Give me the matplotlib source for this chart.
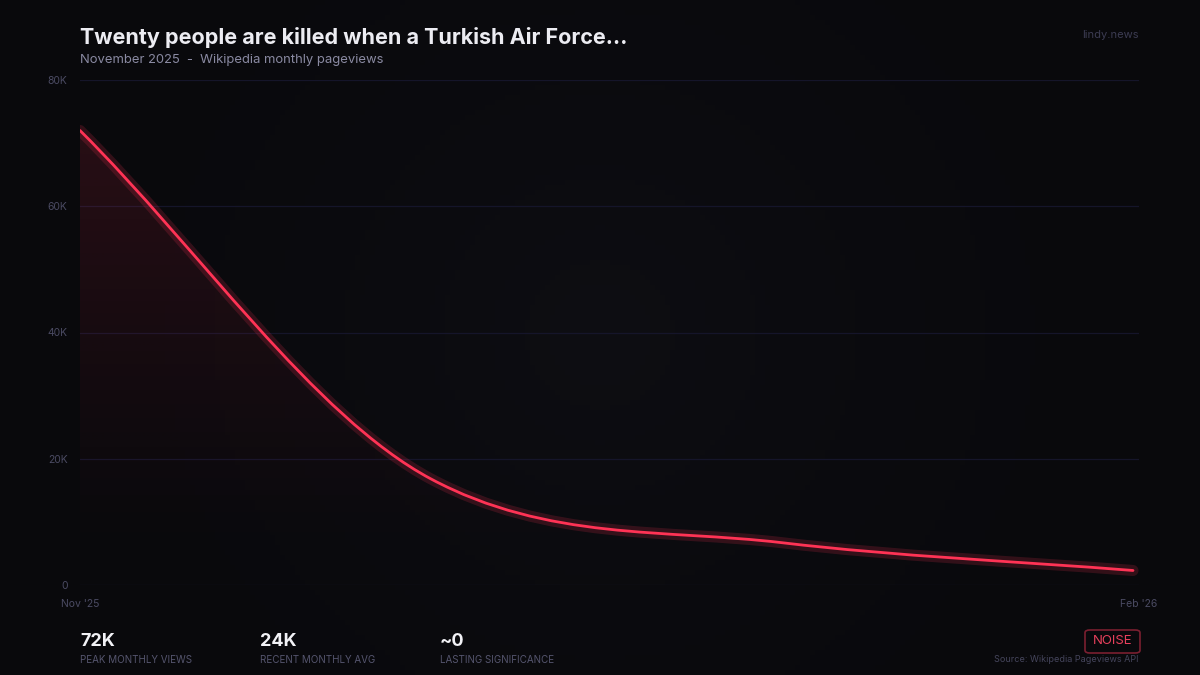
import matplotlib
matplotlib.use("Agg")
import matplotlib.pyplot as plt
import numpy as np
from matplotlib.path import Path
from matplotlib.patches import PathPatch, FancyBboxPatch

plt.rcParams["font.family"] = ["Inter", "DejaVu Sans"]

# --- data ---
months = ["Nov '25", "Dec '25", "Jan '26", "Feb '26"]
views = [72000, 16800, 6700, 2300]
y_ticks = [0, 20000, 40000, 60000, 80000]
y_tick_labels = ["0", "20K", "40K", "60K", "80K"]
stat_values = ["72K", "24K", "~0"]
stat_labels = ["PEAK MONTHLY VIEWS", "RECENT MONTHLY AVG", "LASTING SIGNIFICANCE"]

BG = "#0b0b0f"
GRID = "#15152a"
MUTED = "#4b4b63"
LINE = "#ff3355"

W, H = 1200, 675


def monotone_controls(x, y):
    """Fritsch-Carlson monotone cubic -> bezier control points (Chart.js style)."""
    x = np.asarray(x, float)
    y = np.asarray(y, float)
    k = len(x)
    d = np.diff(y) / np.diff(x)
    m = np.zeros(k)
    m[0], m[-1] = d[0], d[-1]
    for i in range(1, k - 1):
        m[i] = 0 if np.sign(d[i - 1]) != np.sign(d[i]) else (d[i - 1] + d[i]) / 2
    for i in range(k - 1):
        if abs(d[i]) < 1e-12:
            m[i] = m[i + 1] = 0
            continue
        a, b = m[i] / d[i], m[i + 1] / d[i]
        sq = a * a + b * b
        if sq <= 9:
            continue
        tau = 3 / np.sqrt(sq)
        m[i] = a * tau * d[i]
        m[i + 1] = b * tau * d[i]
    verts = [(x[0], y[0])]
    codes = [Path.MOVETO]
    for i in range(k - 1):
        dx = (x[i + 1] - x[i]) / 3
        verts += [(x[i] + dx, y[i] + dx * m[i]),
                  (x[i + 1] - dx, y[i + 1] - dx * m[i + 1]),
                  (x[i + 1], y[i + 1])]
        codes += [Path.CURVE4] * 3
    return np.array(verts), codes


fig = plt.figure(figsize=(12, 6.75), dpi=100, facecolor=BG)

# faint radial glow in the background
bg = fig.add_axes([0, 0, 1, 1], zorder=-10)
gx, gy = np.meshgrid(np.linspace(0, W, 240), np.linspace(0, H, 135))
r = np.hypot(gx - 600, gy - 340) / 700
shade = np.clip(1 - r, 0, 1) ** 2
base = np.array([9, 9, 12]) / 255
top = np.array([14, 14, 19]) / 255
img = base + (top - base) * shade[..., None]
bg.imshow(img, extent=(0, W, 0, H), aspect="auto", origin="lower")
bg.axis("off")

ax = fig.add_axes([80 / W, (H - 585) / H, (1139 - 80) / W, (585 - 80) / H])
ax.set_facecolor("none")
n = len(views)
xs = np.arange(n, dtype=float)
ax.set_xlim(0, (n - 1) * 1059 / 1053)
ax.set_ylim(0, 80000)
for s in ax.spines.values():
    s.set_visible(False)
ax.set_yticks(y_ticks)
ax.set_yticklabels(y_tick_labels)
ax.tick_params(axis="y", length=0, pad=9, labelsize=7.5, labelcolor=MUTED)
ax.set_xticks([])
ax.grid(axis="y", color=GRID, lw=0.9)
ax.set_axisbelow(True)

verts, codes = monotone_controls(xs, views)
line_path = Path(verts, codes)

# gradient fill under the curve
fill_verts = np.vstack([verts, [[xs[-1], 0], [xs[0], 0], verts[0]]])
fill_codes = codes + [Path.LINETO, Path.LINETO, Path.CLOSEPOLY]
fill_patch = PathPatch(Path(fill_verts, fill_codes), facecolor="none", edgecolor="none")
ax.add_patch(fill_patch)
grad = np.zeros((200, 2, 4))
grad[..., :3] = np.array([255, 51, 85]) / 255
grad[..., 3] = np.linspace(0, 0.13, 200)[:, None] ** 1.3 / 0.13 ** 0.3
gim = ax.imshow(grad, extent=(xs[0], xs[-1], 0, max(views)), aspect="auto",
                origin="lower", zorder=1)
gim.set_clip_path(fill_patch)

# glow + main line
ax.add_patch(PathPatch(line_path, facecolor="none", edgecolor=LINE, alpha=0.17,
                       lw=8, capstyle="round", joinstyle="round", zorder=3))
ax.add_patch(PathPatch(line_path, facecolor="none", edgecolor=LINE, lw=2,
                       capstyle="round", joinstyle="round", zorder=4))

# x labels at the edges
fig.text(80 / W, 1 - 604 / H, months[0], ha="center", va="center", color=MUTED, fontsize=7.5)
fig.text(1139 / W, 1 - 604 / H, months[-1], ha="center", va="center", color=MUTED, fontsize=7.5)

# title block
fig.text(80 / W, 1 - 38 / H, "Twenty people are killed when a Turkish Air Force…",
         ha="left", va="center", color="#ececf2", fontsize=15.5, fontweight="bold")
fig.text(80 / W, 1 - 60 / H, "November 2025  -  Wikipedia monthly pageviews",
         ha="left", va="center", color="#8a8aa2", fontsize=9.4)
fig.text(1139 / W, 1 - 35 / H, "lindy.news", ha="right", va="center",
         color="#3c3c52", fontsize=8)

# stats row
for i, (v, lab) in enumerate(zip(stat_values, stat_labels)):
    x0 = (80 + 180 * i) / W
    fig.text(x0, 1 - 641 / H, v, ha="left", va="center", color="#f2f2f6",
             fontsize=13, fontweight="bold")
    fig.text(x0, 1 - 660 / H, lab, ha="left", va="center", color="#55556e", fontsize=7.1)

# badge
badge = FancyBboxPatch((1085 / W, 1 - 653 / H), 55 / W, 23 / H,
                       boxstyle="round,pad=0,rounding_size=0.004", transform=fig.transFigure,
                       facecolor="none", edgecolor="#7a1f30", lw=1.2)
fig.add_artist(badge)
fig.text(1112.5 / W, 1 - 641.5 / H, "NOISE", ha="center", va="center",
         color="#e8405c", fontsize=9.5)
fig.text(1139 / W, 1 - 660 / H, "Source: Wikipedia Pageviews API", ha="right",
         va="center", color="#45455c", fontsize=6.5)

fig.savefig("out.png", dpi=100, facecolor=BG)
